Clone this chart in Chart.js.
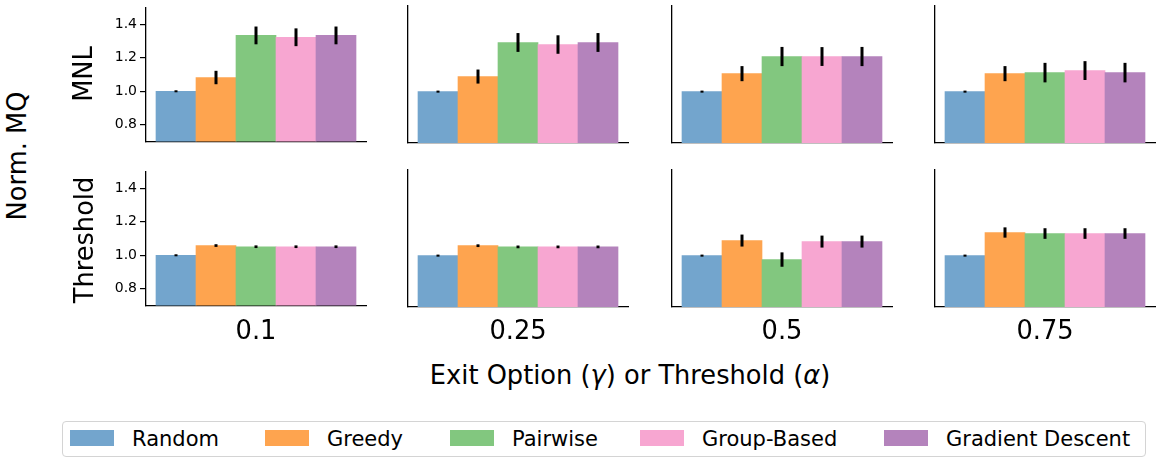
<!DOCTYPE html>
<html>
<head>
<meta charset="utf-8">
<script src="https://cdn.jsdelivr.net/npm/chart.js@4.4.1/dist/chart.umd.min.js"></script>
<style>
  html, body { margin: 0; padding: 0; background: #fff; }
  body { width: 1156px; height: 458px; position: relative; overflow: hidden; font-family: 'DejaVu Sans', sans-serif; color: #000; }
  canvas.panel { position: absolute; }
  .lbl { position: absolute; white-space: nowrap; line-height: 1; }
  .rot { transform: translate(-50%, -50%) rotate(-90deg); }
  .ctr { transform: translate(-50%, -50%); }
  .big { font-size: 25.7px; }
  #legend { position: absolute; left: 62px; top: 421px; width: 1082px; height: 34px; border: 1px solid #d4d4d4; border-radius: 4px; }
  .item { position: absolute; top: 0; height: 34px; display: flex; align-items: center; font-size: 21px; white-space: nowrap; }
  .swatch { width: 44px; height: 16px; margin-right: 18px; margin-top: -3px; }
</style>
</head>
<body>

<div class="lbl rot big" style="left:18px; top:156px;">Norm. MQ</div>
<div class="lbl big ctr" id="xTitle" style="left:630px; top:376px;">Exit Option (<i>γ</i>) or Threshold (<i>α</i>)</div>
<div id="legend"></div>

<script>
// ========================================
// DATA
// ========================================
const methods = ['Random', 'Greedy', 'Pairwise', 'Group-Based', 'Gradient Descent'];
const methodColors = ['#73a5cd', '#fea44f', '#82c77f', '#f7a6d1', '#b483bc'];
const columnLabels = ['0.1', '0.25', '0.5', '0.75'];
const rowLabels = ['MNL', 'Threshold'];
const yTicks = [0.8, 1.0, 1.2, 1.4];

// one array per column (0.1, 0.25, 0.5, 0.75), values in method order
const mnlMeans = [
    [1.00, 1.082, 1.333, 1.322, 1.333],
    [1.00, 1.088, 1.287, 1.275, 1.287],
    [1.00, 1.105, 1.205, 1.205, 1.205],
    [1.00, 1.105, 1.111, 1.123, 1.111]
];
const mnlErrors = [
    [0.006, 0.040, 0.053, 0.053, 0.053],
    [0.006, 0.041, 0.055, 0.054, 0.055],
    [0.006, 0.044, 0.056, 0.055, 0.056],
    [0.006, 0.044, 0.057, 0.055, 0.057]
];
const thresholdMeans = [
    [1.00, 1.058, 1.051, 1.051, 1.051],
    [1.00, 1.058, 1.051, 1.051, 1.051],
    [1.00, 1.088, 0.977, 1.082, 1.082],
    [1.00, 1.135, 1.129, 1.129, 1.129]
];
const thresholdErrors = [
    [0.006, 0.008, 0.008, 0.008, 0.008],
    [0.006, 0.008, 0.008, 0.008, 0.008],
    [0.006, 0.035, 0.042, 0.035, 0.035],
    [0.006, 0.030, 0.031, 0.031, 0.031]
];

// ========================================
// LAYOUT (pixels)
// ========================================
const panelLeft = [146, 408, 672, 935];   // y spine position of each column
const panelTop = [6, 170];                // top of plot area for each row
const plotW = 220, plotH = 137;
const padL = 70, padT = 10, padR = 8, padB = 10;
const legendLeft = [70, 265, 450, 640, 884];

// ========================================
// ERROR BARS
// ========================================
const errorBarPlugin = {
    id: 'errorBars',
    afterDatasetsDraw(chart) {
        const ds = chart.data.datasets[0];
        const xs = chart.scales.x;
        const ys = chart.scales.y;
        const ctx = chart.ctx;
        ctx.save();
        ctx.strokeStyle = '#000';
        ctx.lineWidth = 3;
        ds.data.forEach(function (pt, i) {
            const e = ds.errors[i];
            const px = xs.getPixelForValue(pt.x);
            ctx.beginPath();
            ctx.moveTo(px, ys.getPixelForValue(pt.y - e));
            ctx.lineTo(px, ys.getPixelForValue(pt.y + e));
            ctx.stroke();
        });
        ctx.restore();
    }
};

// ========================================
// PANELS
// ========================================
function makePanel(row, col, means, errors) {
    const first = col === 0;
    const canvas = document.createElement('canvas');
    canvas.className = 'panel';
    canvas.width = padL + plotW + padR;
    canvas.height = padT + plotH + padB;
    canvas.style.left = (panelLeft[col] - padL) + 'px';
    canvas.style.top = (panelTop[row] - padT) + 'px';
    document.body.appendChild(canvas);

    new Chart(canvas, {
        type: 'bar',
        data: {
            datasets: [{
                data: means.map(function (v, i) { return { x: i, y: v }; }),
                errors: errors,
                backgroundColor: methodColors,
                borderWidth: 0,
                barPercentage: 1,
                categoryPercentage: 1
            }]
        },
        options: {
            responsive: false,
            animation: false,
            events: [],
            layout: { padding: { top: padT, right: padR, bottom: padB, left: 0 } },
            plugins: { legend: { display: false }, tooltip: { enabled: false } },
            scales: {
                x: {
                    type: 'linear',
                    offset: false,
                    min: -0.75,
                    max: 4.75,
                    afterBuildTicks: function (s) { s.ticks = methods.map(function (m, i) { return { value: i }; }); },
                    grid: { display: false },
                    ticks: { display: false },
                    border: { display: true, color: '#000', width: 1.3 },
                    afterFit: function (s) { s.height = 0; }
                },
                y: {
                    min: 0.7,
                    max: 1.5,
                    afterBuildTicks: function (s) { s.ticks = yTicks.map(function (v) { return { value: v }; }); },
                    afterFit: function (s) { s.width = padL; },
                    grid: { display: first, drawOnChartArea: false, drawTicks: true, tickLength: 6, color: '#000', lineWidth: 1.2 },
                    ticks: {
                        display: first,
                        padding: 3,
                        color: '#000',
                        font: { family: 'DejaVu Sans', size: 14 },
                        callback: function (v) { return v.toFixed(1); }
                    },
                    border: { display: true, color: '#000', width: 1.3 }
                }
            }
        },
        plugins: [errorBarPlugin]
    });
}

function addLabel(text, x, y, cls) {
    const d = document.createElement('div');
    d.className = 'lbl ' + cls;
    d.textContent = text;
    d.style.left = x + 'px';
    d.style.top = y + 'px';
    document.body.appendChild(d);
}

function buildLegend() {
    const box = document.getElementById('legend');
    methods.forEach(function (m, i) {
        const item = document.createElement('div');
        item.className = 'item';
        item.style.left = (legendLeft[i] - 63) + 'px';
        const sw = document.createElement('span');
        sw.className = 'swatch';
        sw.style.background = methodColors[i];
        const tx = document.createElement('span');
        tx.textContent = m;
        item.appendChild(sw);
        item.appendChild(tx);
        box.appendChild(item);
    });
}

document.addEventListener('DOMContentLoaded', function () {
    const rowMeans = [mnlMeans, thresholdMeans];
    const rowErrors = [mnlErrors, thresholdErrors];
    for (let r = 0; r < 2; r++) {
        for (let c = 0; c < 4; c++) {
            makePanel(r, c, rowMeans[r][c], rowErrors[r][c]);
        }
    }
    addLabel(rowLabels[0], 84, 74, 'rot big');
    addLabel(rowLabels[1], 85, 240, 'rot big');
    columnLabels.forEach(function (t, c) {
        addLabel(t, panelLeft[c] + plotW / 2, 331, 'ctr big');
    });
    buildLegend();
});
</script>
</body>
</html>
